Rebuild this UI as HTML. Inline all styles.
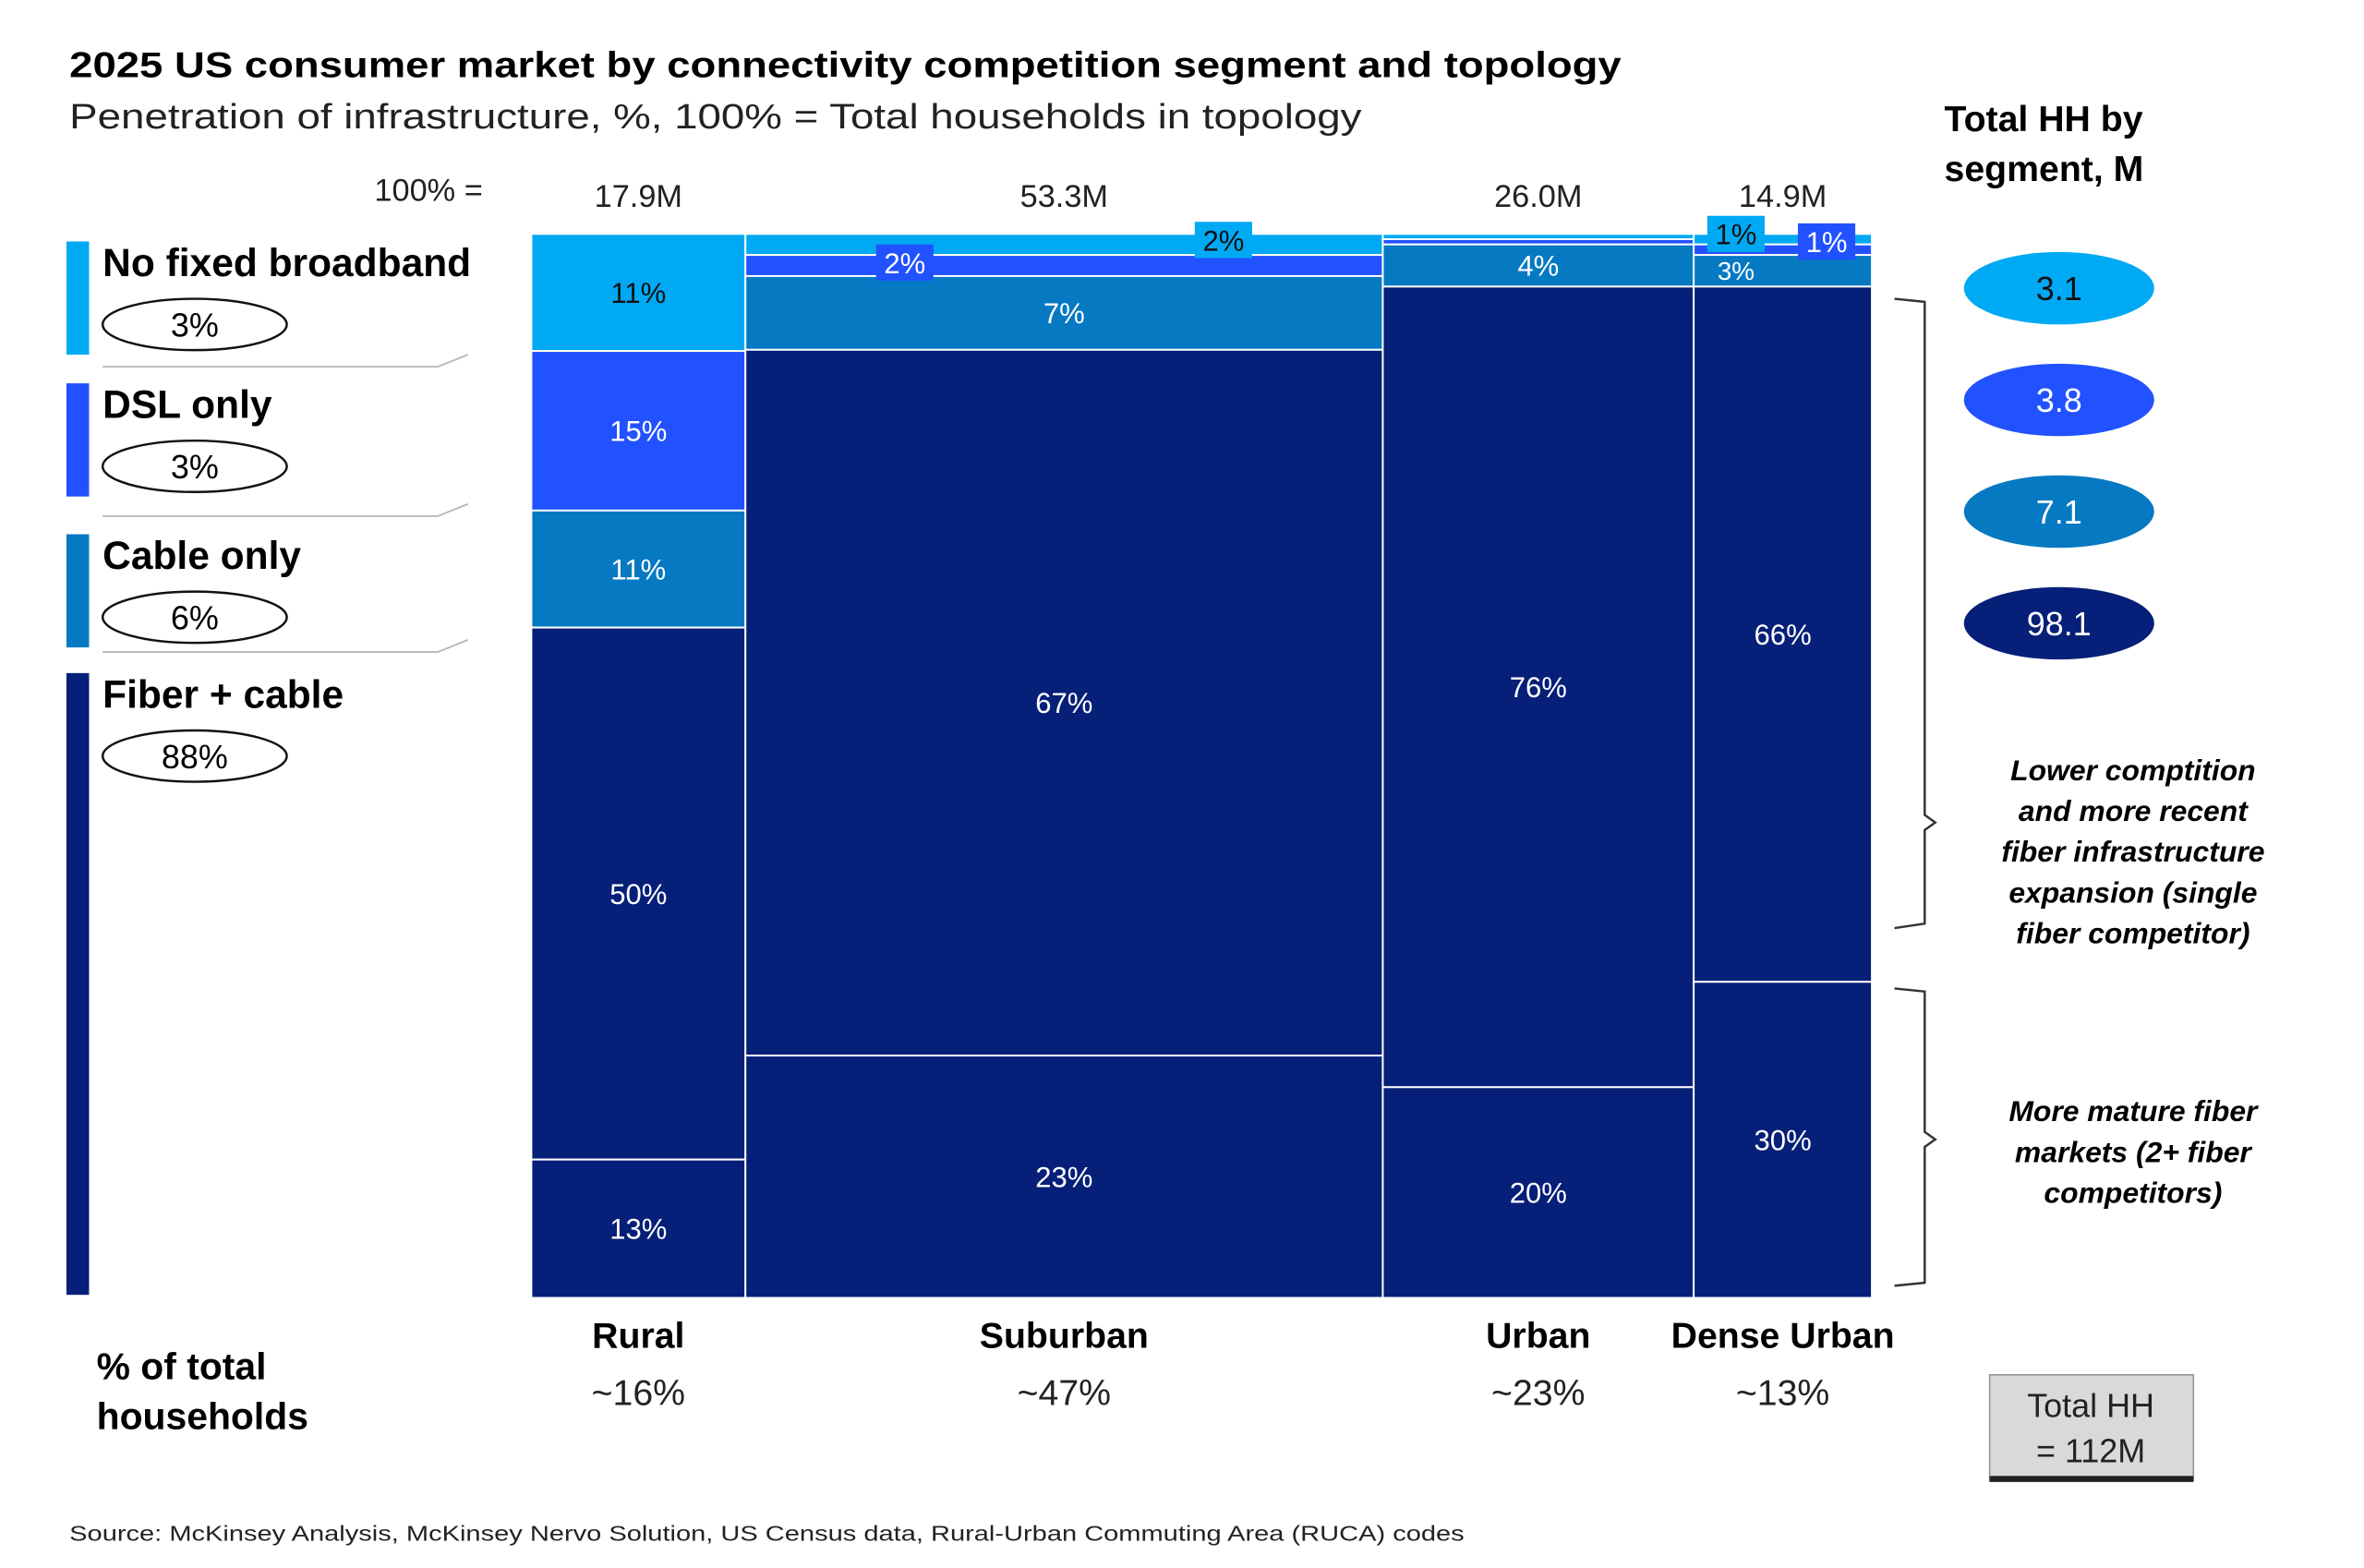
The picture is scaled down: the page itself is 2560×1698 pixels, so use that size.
<!DOCTYPE html>
<html><head><meta charset="utf-8"><style>
html,body{margin:0;padding:0;background:#fff;}
svg{display:block;font-family:"Liberation Sans",Arial,sans-serif;}
</style></head><body>
<svg id="chart" width="2560" height="1698" viewBox="0 0 1566 1039" preserveAspectRatio="none" xmlns="http://www.w3.org/2000/svg">
<text x="46" y="51" font-size="24" font-weight="bold" textLength="1028" lengthAdjust="spacingAndGlyphs">2025 US consumer market by connectivity competition segment and topology</text>
<text x="46" y="85" font-size="23" fill="#222" textLength="856" lengthAdjust="spacingAndGlyphs">Penetration of infrastructure, %, 100% = Total households in topology</text>
<text x="248" y="133" font-size="21" fill="#222">100% =</text>
<g id="legend"></g>
<g id="bars"></g>
<g id="right"></g>
<text font-size="24" font-weight="bold"><tspan x="1288" y="87">Total HH by</tspan><tspan x="1288" y="120">segment, M</tspan></text>
<path d="M1255 198 L1275 200 L1275 540 L1282 545 L1275 550 L1275 612 L1255 615" fill="none" stroke="#333" stroke-width="1.5"/>
<path d="M1255 655 L1275 657 L1275 750 L1282 755 L1275 760 L1275 850 L1255 852" fill="none" stroke="#333" stroke-width="1.5"/>
<text font-size="19.5" font-weight="bold" font-style="italic" text-anchor="middle"><tspan x="1413" y="517">Lower comptition</tspan><tspan x="1413" y="544">and more recent</tspan><tspan x="1413" y="571">fiber infrastructure</tspan><tspan x="1413" y="598">expansion (single</tspan><tspan x="1413" y="625">fiber competitor)</tspan></text>
<text font-size="19.5" font-weight="bold" font-style="italic" text-anchor="middle"><tspan x="1413" y="743">More mature fiber</tspan><tspan x="1413" y="770">markets (2+ fiber</tspan><tspan x="1413" y="797">competitors)</tspan></text>
<text font-size="25" font-weight="bold"><tspan x="64" y="914">% of total</tspan><tspan x="64" y="947">households</tspan></text>
<rect x="1318" y="911" width="135" height="70" fill="#d9d9d9" stroke="#999" stroke-width="1"/>
<rect x="1318" y="978" width="135" height="4" fill="#222"/>
<text font-size="22" text-anchor="middle" fill="#222"><tspan x="1385" y="939">Total HH</tspan><tspan x="1385" y="969">= 112M</tspan></text>
<text x="46" y="1021" font-size="14" fill="#222" textLength="924" lengthAdjust="spacingAndGlyphs">Source: McKinsey Analysis, McKinsey Nervo Solution, US Census data, Rural-Urban Commuting Area (RUCA) codes</text>
</svg>
<script>
const categories = ["Rural","Suburban","Urban","Dense Urban"];
const totalsM = [17.9,53.3,26.0,14.9];
const shareLabels = ["~16%","~47%","~23%","~13%"];
const noFixed = [11,2,0.5,1];
const dslOnly = [15,2,0.5,1];
const cableOnly = [11,7,4,3];
const fiberSingle = [50,67,76,66];
const fiberMulti = [13,23,20,30];
const legendNames = ["No fixed broadband","DSL only","Cable only","Fiber + cable"];
const legendShares = ["3%","3%","6%","88%"];
const segmentTotals = ["3.1","3.8","7.1","98.1"];
const colors = ["#00a9f4","#2251ff","#0679c3","#061f78"];

const NS="http://www.w3.org/2000/svg";
function mk(tag,attrs,parent,txt){const e=document.createElementNS(NS,tag);for(const k in attrs)e.setAttribute(k,attrs[k]);if(txt!==undefined)e.textContent=txt;parent.appendChild(e);return e;}
const X0=352,X1=1240,Y0=155,Y1=860;
const sumT=totalsM.reduce((a,b)=>a+b,0);
function xScale(cum){return X0+(X1-X0)*cum/sumT;}
const bars=document.getElementById('bars');
let cum=0;
const series=[noFixed,dslOnly,cableOnly,fiberSingle,fiberMulti];
for(let i=0;i<categories.length;i++){
  const xa=xScale(cum), xb=xScale(cum+totalsM[i]); cum+=totalsM[i];
  const vals=series.map(s=>s[i]); const tot=vals.reduce((a,b)=>a+b,0);
  let y=Y0;
  const segs=[];
  vals.forEach((v,j)=>{
    const h=(Y1-Y0)*v/tot;
    const r=mk('rect',{x:xa,y:y,width:xb-xa,height:h,fill:colors[Math.min(j,3)],stroke:'#fff','stroke-width':1.2},bars);
    
    
    segs.push([y,h,v,j]); y+=h;
  });
  const cx=(xa+xb)/2;
  segs.forEach(([sy,h,v,j])=>{
    if(h>=17){
      const fs=h>=22?19:17;
      const t=mk('text',{x:j===2&&h<22?xa+28:cx,y:sy+h/2+fs*0.36,'font-size':fs,'text-anchor':'middle',fill:j===0?'#111':'#fff'},bars,Math.round(v)+'%');
      
      
    } else if(v>=1){
      const bx = (j===0)? (i===1? xa+(xb-xa)*0.75 : xa+28) : (i===1? xa+(xb-xa)*0.25 : xb-30);
      const by = (j===0)? (i===1?147:143) : (i===1?162:148);
      const b=mk('rect',{x:bx-19,y:by,width:38,height:24,fill:colors[j]},bars);
      
      
      const t=mk('text',{x:bx,y:by+19,'font-size':19,'text-anchor':'middle',fill:j===0?'#111':'#fff'},bars,Math.round(v)+'%');
      
      
    }
  });
  const tt=mk('text',{x:cx,y:137,'font-size':21,'text-anchor':'middle',fill:'#222'},bars,totalsM[i].toFixed(1)+'M');
  
  
  const cl=mk('text',{x:cx,y:893,'font-size':24,'font-weight':'bold','text-anchor':'middle'},bars,categories[i]);
  
  
  const sl=mk('text',{x:cx,y:931,'font-size':24,'text-anchor':'middle',fill:'#222'},bars,shareLabels[i]);
  
  
}
const lg=document.getElementById('legend');
const lgTop=[160,254,354,446], lgBot=[235,329,429,858];
for(let j=0;j<4;j++){
  const r=mk('rect',{x:44,y:lgTop[j],width:15,height:lgBot[j]-lgTop[j],fill:colors[j]},lg);
  
  
  const t=mk('text',{x:68,y:lgTop[j]+23,'font-size':26,'font-weight':'bold'},lg,legendNames[j]);
  
  
  const cy=lgTop[j]+55;
  const e=mk('ellipse',{cx:129,cy:cy,rx:61,ry:17,fill:'#fff',stroke:'#111','stroke-width':1.5},lg);
  
  
  const s=mk('text',{x:129,y:cy+8,'font-size':22,'text-anchor':'middle'},lg,legendShares[j]);
  
  
  if(j<3){
    const ly=[243,342,432][j];
    const l=mk('path',{d:'M68 '+ly+' L290 '+ly+' L310 '+(ly-8),fill:'none',stroke:'#bbb','stroke-width':1.2},lg);
    
    
  }
}
const rg=document.getElementById('right');
const ry=[191,265,339,413];
for(let j=0;j<4;j++){
  const e=mk('ellipse',{cx:1364,cy:ry[j],rx:63,ry:24,fill:colors[j]},rg);
  
  
  const t=mk('text',{x:1364,y:ry[j]+8,'font-size':22,'text-anchor':'middle',fill:j===0?'#111':'#fff'},rg,segmentTotals[j]);
  
  
}
</script>
</body></html>
